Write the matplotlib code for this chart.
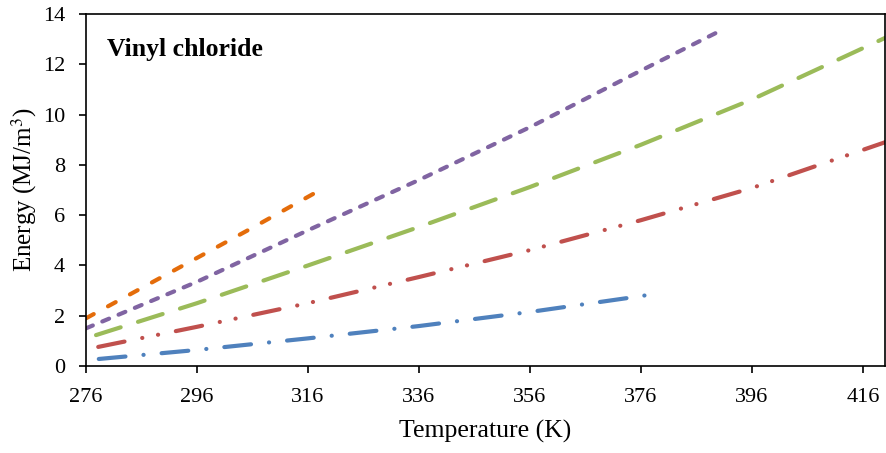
import matplotlib
matplotlib.use('Agg')
import matplotlib.pyplot as plt

plt.rcParams['font.family'] = ['Liberation Serif', 'DejaVu Serif']
plt.rcParams['mathtext.fontset'] = 'stix'
plt.rcParams['lines.scale_dashes'] = False

# Valores (Temperatura em K, Energia em MJ/m3)
t_laranja = [276, 286, 296, 306, 318.2]
e_laranja = [1.9, 3.1, 4.3, 5.5, 7.0]

t_roxo = [276, 296, 316, 336, 356, 376, 390]
e_roxo = [1.5, 3.35, 5.4, 7.4, 9.5, 11.75, 13.3]

t_verde = [277.8, 296, 316, 336, 356, 376, 396, 420]
e_verde = [1.23, 2.5, 4.0, 5.53, 7.12, 8.8, 10.6, 13.05]

t_vermelho = [278.2, 296, 316, 336, 356, 376, 396, 420]
e_vermelho = [0.76, 1.56, 2.5, 3.54, 4.61, 5.8, 7.08, 8.9]

t_azul = [278.3, 296, 316, 336, 356, 376, 379.2]
e_azul = [0.28, 0.64, 1.1, 1.59, 2.15, 2.78, 2.9]

x_ticks = [276, 296, 316, 336, 356, 376, 396, 416]
y_ticks = [0, 2, 4, 6, 8, 10, 12, 14]

fig = plt.figure(figsize=(8.86, 4.53), dpi=100)
ax = fig.add_axes([0.0971, 0.192, 0.9018, 0.777])

lw = 3
estilo = dict(linewidth=lw, dash_capstyle='round', solid_capstyle='round')

ax.plot(t_azul, e_azul, color='#4F81BD', dashes=(19.3, 13, 0.1, 13), **estilo)
ax.plot(t_vermelho, e_vermelho, color='#C0504D', dashes=(19.3, 13, 0.1, 11.5, 0.1, 13), **estilo)
ax.plot(t_verde, e_verde, color='#9BBB59', dashes=(18.6, 13.1), **estilo)
ax.plot(t_roxo, e_roxo, color='#8064A2', dashes=(5.3, 7.4), **estilo)
ax.plot(t_laranja, e_laranja, color='#E46C0A', dashes=(6.3, 11.7), **estilo)

ax.set_xlim(276, 420)
ax.set_ylim(0, 14)
ax.set_xticks(x_ticks)
ax.set_yticks(y_ticks)
ax.tick_params(direction='out', length=5, width=1.2, labelsize=16, colors='black')
ax.tick_params(axis='x', pad=11)
ax.tick_params(axis='y', pad=10)

for lado in ax.spines.values():
    lado.set_linewidth(1.2)
    lado.set_color('black')

ax.set_xlabel('Temperature (K)', fontsize=18.5, labelpad=9)
ax.set_ylabel('Energy (MJ/m$^3$)', fontsize=18, labelpad=3)

ax.text(0.026, 0.898, 'Vinyl chloride', transform=ax.transAxes, fontsize=18.5,
        fontweight='bold', va='center', ha='left')

fig.savefig('out.png', dpi=100)
